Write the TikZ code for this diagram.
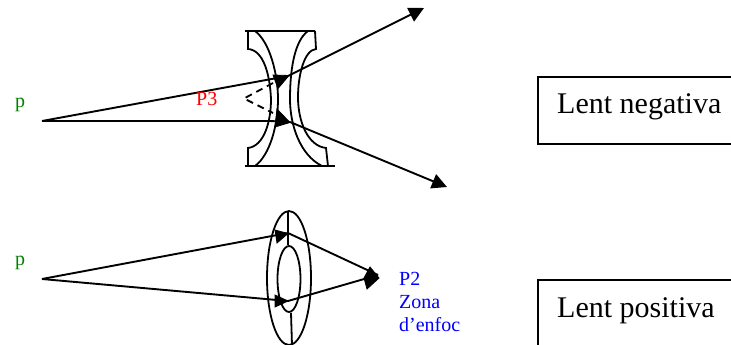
\documentclass[tikz,border=0pt]{standalone}
\usepackage{fontspec}
\setmainfont{Liberation Serif}
\usetikzlibrary{arrows.meta,shapes.geometric}
\definecolor{pgreen}{RGB}{0,128,0}
\tikzset{
  ray/.style={line width=1.9pt},
  lens/.style={line width=1.8pt},
  head/.style={fill=black,draw=black,line width=0.8pt,line join=miter},
  labelbox/.style={draw,line width=1.8pt,anchor=north west,minimum width=260pt},
  big/.style={font=\fontsize{30}{30}\selectfont,anchor=base west,inner sep=0pt},
  small/.style={font=\fontsize{20}{23}\selectfont,anchor=base west,inner sep=0pt},
  outhead/.style={-{Triangle[length=15pt,width=15pt]}}
}
\begin{document}
\begin{tikzpicture}[x=1pt,y=-1pt]
\useasboundingbox (0,0) rectangle (731,345);
\clip (0,0) rectangle (731,345);
\fill[white] (0,0) rectangle (731,345);
% upper lens
\draw[lens] (245,31) -- (315,31);
\draw[lens] (245,166) -- (335,166);
\draw[lens] (248,31) -- (248,49) .. controls (264,50) and (270,76) .. (271,99) .. controls (271,122) and (264,146) .. (248,148) -- (248,166);
\draw[lens] (255,31) .. controls (270,42) and (278,75) .. (278,99) .. controls (278,125) and (270,155) .. (255,166);
\draw[lens] (308,31) .. controls (293,42) and (290,75) .. (290,99) .. controls (290,125) and (300,155) .. (322,166);
\draw[lens] (315,31) -- (316,49) .. controls (304,50) and (298,76) .. (298,97) .. controls (298,122) and (308,146) .. (326,148) -- (328,166);
% dashed virtual rays
\coordinate (vt) at (273,83);
\coordinate (vm) at (244,98.5);
\coordinate (vb) at (273,113);
\draw[lens,dash pattern=on 7pt off 5pt] (vt) -- (vm) -- (vb);
% upper rays
\coordinate (s1) at (42,121);
\coordinate (a1) at (288,76);
\coordinate (e1) at (424,8);
\coordinate (a2) at (290,122);
\coordinate (e2) at (447,187);
\draw[ray] (s1) -- (a1);
\draw[ray,outhead] (a1) -- (e1);
\draw[ray] (s1) -- (270,121) -- (a2);
\draw[ray,outhead] (a2) -- (e2);
\filldraw[head] (273,75) -- (289,75.5) -- (278,88.5) -- cycle;
\filldraw[head] (277,109) -- (290,122.5) -- (275,127) -- cycle;
% lower lens
\node[draw,lens,ellipse,minimum width=44pt,minimum height=134pt,inner sep=0pt] (outer) at (289,278) {};
\node[draw,lens,ellipse,minimum width=23pt,minimum height=66pt,inner sep=0pt] (inner) at (289,279) {};
\draw[lens] (288,211) -- (288,245);
\draw[lens] (291,313) -- (292,345);
% lower rays
\coordinate (s2) at (42,279);
\coordinate (a3) at (288,233);
\coordinate (a4) at (288,301);
\coordinate (f) at (378,275);
\draw[ray] (s2) -- (a3) -- (f);
\draw[ray] (s2) -- (a4) -- (f);
\filldraw[head] (275,230) -- (288,233.5) -- (277,243) -- cycle;
\filldraw[head] (275,295) -- (288,301) -- (275,307) -- cycle;
\filldraw[head] (364,278) -- (370,267) -- (379,278) -- (367,289) -- cycle;
% labels
\node[small,text=pgreen] (p1) at (15,107) {p};
\node[small,text=pgreen] (p2) at (15,265) {p};
\node[small,text=red] (p3) at (196,105) {P3};
\node[small,text=blue] (t1) at (399,285) {P2};
\node[small,text=blue] (t2) at (399,308) {Zona};
\node[small,text=blue] (t3) at (399,331) {d’enfoc};
% boxes
\node[labelbox,minimum height=67pt] (b1) at (537,76) {};
\node[labelbox,minimum height=90pt] (b2) at (537,279) {};
\node[big] (l1) at (557,113) {Lent negativa};
\node[big] (l2) at (557,317) {Lent positiva};
\end{tikzpicture}
\end{document}
